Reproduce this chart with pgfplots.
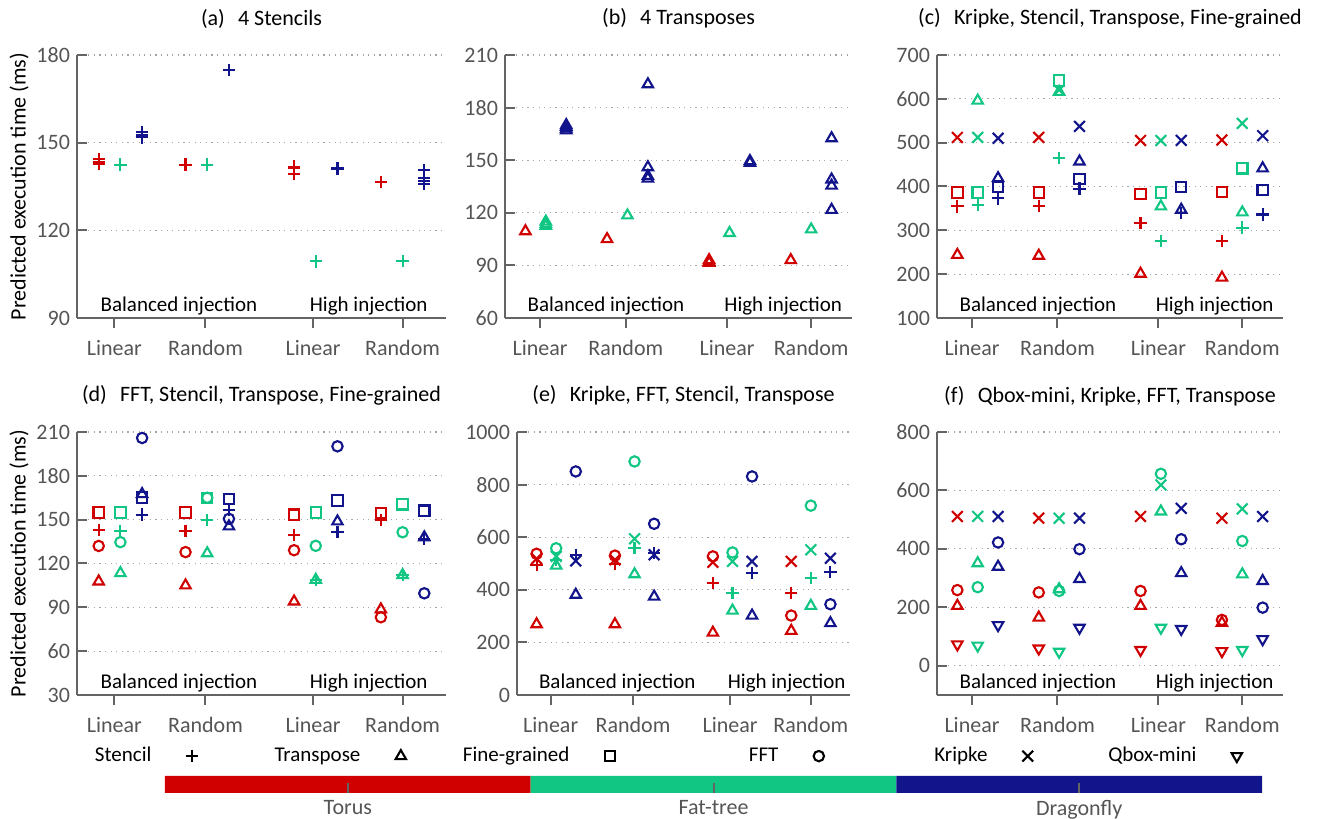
\documentclass[border=0pt]{standalone}
\usepackage{fontspec}
\setmainfont{Carlito}
\usepackage{pgfplots}
\pgfplotsset{compat=1.18}
\definecolor{torus}{RGB}{208,0,0}
\definecolor{fattree}{RGB}{16,198,130}
\definecolor{dragonfly}{RGB}{17,20,138}
\definecolor{axgray}{RGB}{100,100,100}
\definecolor{lblgray}{RGB}{85,85,85}
\definecolor{gridgray}{RGB}{165,165,165}
\newcommand\fs[1]{\fontsize{#1}{#1}\selectfont}
\pgfplotsset{
  panel/.style={
    scale only axis, height=131.5pt, anchor=south west,
    xmin=0, xmax=4.25,
    xtick={0.43,1.48,2.72,3.75}, xticklabels={Linear,Random,Linear,Random},
    axis lines=left, axis line style={-, draw=axgray, line width=1pt},
    tick align=inside, major tick length=5pt,
    tick style={draw=axgray, line width=1pt},
    xtick style={yshift=-5pt},
    ymajorgrids, major grid style={draw=gridgray, line width=0.6pt, dash pattern=on 0.6pt off 2.2pt},
    ticklabel style={font=\fs{11}, text=lblgray},
    xticklabel style={yshift=-7.5pt},
    /pgf/number format/assume math mode=true,
    /pgf/number format/1000 sep={},
    title style={font=\fs{11}, at={(0.5,1)}, anchor=base, yshift=9pt},
    every axis y label/.style={at={(axis description cs:-0.157,0.5)}, rotate=90, anchor=center, font=\fs{11}},
    clip=false,
  },
  T/.style={color=torus, only marks},
  F/.style={color=fattree, only marks},
  D/.style={color=dragonfly, only marks},
  mS/.style={mark=+, mark size=3.1pt, mark options={solid, line width=1.05pt}},
  mT/.style={mark=triangle, mark size=3pt, mark options={solid, line width=1.05pt}},
  mG/.style={mark=square, mark size=2.6pt, mark options={solid, line width=1.05pt}},
  mF/.style={mark=o, mark size=2.6pt, mark options={solid, line width=1.05pt}},
  mK/.style={mark=x, mark size=3.8pt, mark options={solid, line width=1.05pt}},
  mQ/.style={mark=triangle, mark size=3pt, mark options={solid, line width=1.05pt, rotate=180}},
}
\newcommand\injlabels{%
  \node[anchor=base west, font=\fs{10.5}] at (rel axis cs:0.045,0.025) {Balanced injection};
  \node[anchor=base west, font=\fs{10.5}] at (rel axis cs:0.612,0.025) {High injection};
}
\begin{document}
\begin{tikzpicture}
\path[use as bounding box] (0,0) rectangle (659.5pt,409.5pt);

% (a) 4 Stencils
\begin{axis}[panel, at={(38.5pt,250.5pt)}, width=184.5pt,
  ymin=90, ymax=180, ytick={90,120,150,180},
  title={(a)\hspace{0.6em}4 Stencils}, ylabel={Predicted execution time (ms)}]
\addplot[T,mS] coordinates {(0.25,144.5)(0.25,143.2)(0.25,143)(0.25,142.8)(1.25,142.5)(2.5,141.8)(2.5,141.5)(2.5,139.3)(3.5,136.5)};
\addplot[F,mS] coordinates {(0.5,142.5)(1.5,142.5)(2.75,109.4)(3.75,109.5)};
\addplot[D,mS] coordinates {(0.75,153.5)(0.75,152.5)(0.75,152)(0.75,151.8)(1.75,174.8)(3,141.3)(3,141)(4,140.5)(4,138)(4,137)(4,136)};
\injlabels
\end{axis}

% (b) 4 Transposes
\begin{axis}[panel, at={(252.5pt,250.5pt)}, width=173.5pt,
  ymin=60, ymax=210, ytick={60,90,...,210},
  title={(b)\hspace{0.6em}4 Transposes}]
\addplot[T,mT] coordinates {(0.25,109.5)(1.25,105)(2.5,93)(2.5,92)(2.5,91.5)(3.5,93)};
\addplot[F,mT] coordinates {(0.5,115)(0.5,113.5)(0.5,112.5)(1.5,118.5)(2.75,108.5)(3.75,110.5)};
\addplot[D,mT] coordinates {(0.75,170)(0.75,169)(0.75,168)(0.75,167)(1.75,193.3)(1.75,146)(1.75,141)(1.75,139.5)(3,149.5)(3,148.5)(4,162.5)(4,139)(4,135.5)(4,121.7)};
\injlabels
\end{axis}

% (c) Kripke, Stencil, Transpose, Fine-grained
\begin{axis}[panel, at={(468.5pt,250.5pt)}, width=173pt,
  ymin=100, ymax=700, ytick={100,200,...,700},
  title={(c)\hspace{0.6em}Kripke, Stencil, Transpose, Fine-grained}]
\addplot[T,mK] coordinates {(0.25,512)(1.25,512)(2.5,505)(3.5,506)};
\addplot[F,mK] coordinates {(0.5,512)(1.5,620)(2.75,505)(3.75,544)};
\addplot[D,mK] coordinates {(0.75,510)(1.75,537)(3,505)(4,516)};
\addplot[T,mS] coordinates {(0.25,354.5)(1.25,356)(2.5,316.5)(3.5,276)};
\addplot[F,mS] coordinates {(0.5,358)(1.5,464.6)(2.75,275)(3.75,306)};
\addplot[D,mS] coordinates {(0.75,373)(1.75,395)(3,339)(4,336)};
\addplot[T,mT] coordinates {(0.25,244)(1.25,242)(2.5,201)(3.5,192)};
\addplot[F,mT] coordinates {(0.5,596)(1.5,616)(2.75,354.5)(3.75,341)};
\addplot[D,mT] coordinates {(0.75,419)(1.75,457)(3,347)(4,441.5)};
\addplot[T,mG] coordinates {(0.25,386)(1.25,386)(2.5,383)(3.5,387)};
\addplot[F,mG] coordinates {(0.5,386)(1.5,641.5)(2.75,386)(3.75,441.5)};
\addplot[D,mG] coordinates {(0.75,398.5)(1.75,417.5)(3,398.5)(4,392)};
\injlabels
\end{axis}

% (d) FFT, Stencil, Transpose, Fine-grained
\begin{axis}[panel, at={(38.5pt,62pt)}, width=184.5pt,
  ymin=30, ymax=210, ytick={30,60,...,210},
  title={(d)\hspace{0.6em}FFT, Stencil, Transpose, Fine-grained}, ylabel={Predicted execution time (ms)}]
\addplot[T,mF] coordinates {(0.25,132)(1.25,127.8)(2.5,129.1)(3.5,83.2)};
\addplot[F,mF] coordinates {(0.5,134.6)(1.5,165)(2.75,132.1)(3.75,141.4)};
\addplot[D,mF] coordinates {(0.75,205.9)(1.75,150.6)(3,200.2)(4,99.6)};
\addplot[T,mS] coordinates {(0.25,143)(1.25,142.4)(2.5,139.6)(3.5,149.8)};
\addplot[F,mS] coordinates {(0.5,142.4)(1.5,149.7)(2.75,108.8)(3.75,112)};
\addplot[D,mS] coordinates {(0.75,153.4)(1.75,156.8)(3,141.5)(4,137)};
\addplot[T,mT] coordinates {(0.25,107.7)(1.25,105)(2.5,94)(3.5,88.6)};
\addplot[F,mT] coordinates {(0.5,113.4)(1.5,127)(2.75,108.8)(3.75,112.1)};
\addplot[D,mT] coordinates {(0.75,167.5)(1.75,145.4)(3,148.8)(4,137.9)};
\addplot[T,mG] coordinates {(0.25,155)(1.25,155)(2.5,153.4)(3.5,154.4)};
\addplot[F,mG] coordinates {(0.5,155)(1.5,164.8)(2.75,155)(3.75,160.5)};
\addplot[D,mG] coordinates {(0.75,165.2)(1.75,164.3)(3,163.2)(4,156.1)};
\injlabels
\end{axis}

% (e) Kripke, FFT, Stencil, Transpose
\begin{axis}[panel, at={(258.5pt,62pt)}, width=166.5pt,
  ymin=0, ymax=1000, ytick={0,200,...,1000},
  title={(e)\hspace{0.6em}Kripke, FFT, Stencil, Transpose}]
\addplot[T,mK] coordinates {(0.25,518)(1.25,514)(2.5,505)(3.5,508)};
\addplot[F,mK] coordinates {(0.5,527)(1.5,594)(2.75,508)(3.75,552)};
\addplot[D,mK] coordinates {(0.75,510)(1.75,533)(3,508)(4,520)};
\addplot[T,mF] coordinates {(0.25,537)(1.25,530)(2.5,527)(3.5,302)};
\addplot[F,mF] coordinates {(0.5,558)(1.5,888)(2.75,542)(3.75,720)};
\addplot[D,mF] coordinates {(0.75,850)(1.75,651)(3,831)(4,345)};
\addplot[T,mS] coordinates {(0.25,495)(1.25,497)(2.5,425)(3.5,387)};
\addplot[F,mS] coordinates {(0.5,514)(1.5,558)(2.75,387)(3.75,444)};
\addplot[D,mS] coordinates {(0.75,533)(1.75,539)(3,463)(4,467)};
\addplot[T,mT] coordinates {(0.25,269)(1.25,269)(2.5,237)(3.5,244)};
\addplot[F,mT] coordinates {(0.5,492)(1.5,459)(2.75,321)(3.75,339)};
\addplot[D,mT] coordinates {(0.75,381)(1.75,374)(3,302)(4,273)};
\injlabels
\end{axis}

% (f) Qbox-mini, Kripke, FFT, Transpose
\begin{axis}[panel, at={(468.5pt,62pt)}, width=173pt,
  ymin=-100, ymax=800, ytick={0,200,...,800},
  title={(f)\hspace{0.6em}Qbox-mini, Kripke, FFT, Transpose}]
\addplot[T,mQ] coordinates {(0.25,73)(1.25,59)(2.5,54)(3.5,50)};
\addplot[F,mQ] coordinates {(0.5,69)(1.5,48)(2.75,130)(3.75,54)};
\addplot[D,mQ] coordinates {(0.75,139)(1.75,130)(3,126)(4,91)};
\addplot[T,mK] coordinates {(0.25,511)(1.25,505)(2.5,511)(3.5,505)};
\addplot[F,mK] coordinates {(0.5,511)(1.5,505)(2.75,619)(3.75,537)};
\addplot[D,mK] coordinates {(0.75,511)(1.75,505)(3,539)(4,511)};
\addplot[T,mF] coordinates {(0.25,259)(1.25,251)(2.5,256)(3.5,157)};
\addplot[F,mF] coordinates {(0.5,269)(1.5,256)(2.75,657)(3.75,427)};
\addplot[D,mF] coordinates {(0.75,422)(1.75,399)(3,433)(4,199)};
\addplot[T,mT] coordinates {(0.25,205)(1.25,165)(2.5,205)(3.5,147)};
\addplot[F,mT] coordinates {(0.5,351)(1.5,262)(2.75,528)(3.75,313)};
\addplot[D,mT] coordinates {(0.75,339)(1.75,297)(3,317)(4,290)};
\injlabels
\end{axis}

% topology colour bar and job legend
\begin{axis}[at={(82.5pt,13pt)}, anchor=south west, scale only axis,
  width=548.5pt, height=8.5pt, xmin=0, xmax=3, ymin=0, ymax=1,
  axis line style={draw=none}, ytick=\empty,
  xtick={0.5,1.5,2.5}, xticklabels={Torus,Fat-tree,Dragonfly}, xtick pos=bottom,
  tick align=inside, major tick length=5pt,
  xtick style={draw=axgray, line width=1pt},
  ticklabel style={font=\fs{11}, text=lblgray},
  axis on top, clip=false,
  legend columns=6, legend plot pos=right,
  legend image code/.code={\path (0pt,0pt) (17pt,0pt); \draw[#1] plot coordinates {(8.5pt,0pt)};},
  legend style={draw=none, fill=none, inner sep=0pt, font=\fs{10.5},
    at={(axis description cs:-0.1440,2.17)}, anchor=west,
    /tikz/every odd column/.style={column sep=9.5pt},
    /tikz/every even column/.style={column sep=3.6pt}},
]
\addplot[fill=torus, draw=none, no markers, forget plot] coordinates {(0,0)(1,0)(1,1)(0,1)(0,0)};
\addplot[fill=fattree, draw=none, no markers, forget plot] coordinates {(1,0)(2,0)(2,1)(1,1)(1,0)};
\addplot[fill=dragonfly, draw=none, no markers, forget plot] coordinates {(2,0)(3,0)(3,1)(2,1)(2,0)};
\addlegendimage{black, only marks, mS}
\addlegendentry{\makebox[70pt][r]{Stencil}}
\addlegendimage{black, only marks, mT}
\addlegendentry{\makebox[70pt][r]{Transpose}}
\addlegendimage{black, only marks, mG}
\addlegendentry{\makebox[70pt][r]{Fine-grained}}
\addlegendimage{black, only marks, mF}
\addlegendentry{\makebox[70pt][r]{FFT}}
\addlegendimage{black, only marks, mK}
\addlegendentry{\makebox[70pt][r]{Kripke}}
\addlegendimage{black, only marks, mQ}
\addlegendentry{\makebox[70pt][r]{Qbox-mini}}
\end{axis}
\end{tikzpicture}
\end{document}
